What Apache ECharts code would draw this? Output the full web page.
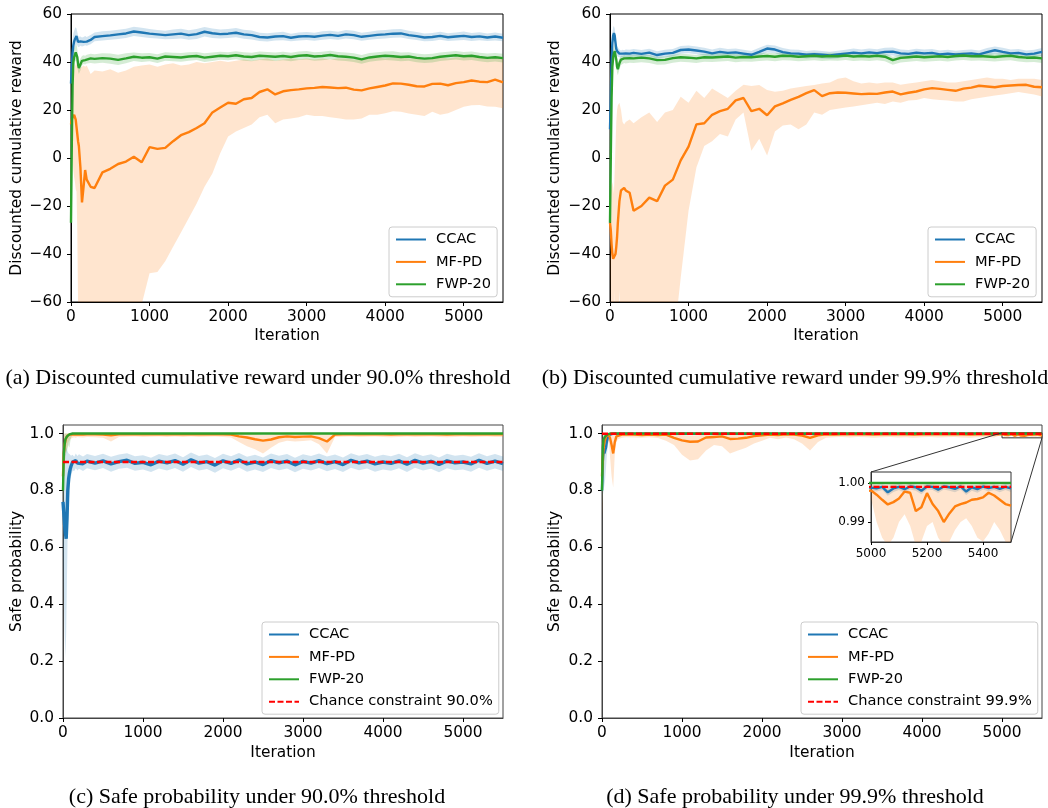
<!DOCTYPE html>
<html>
<head>
<meta charset="utf-8">
<title>CCAC / MF-PD / FWP-20</title>
<script src="https://cdn.jsdelivr.net/npm/echarts@6.0.0/dist/echarts.min.js"></script>
<style>
  html, body { margin: 0; padding: 0; background: #fff; }
  #chart { width: 1048px; height: 808px; }
</style>
</head>
<body>
<div id="chart"></div>
<script>
'use strict';

// iteration grid shared by panels a, b, c
var iters = [
  0, 10, 20, 30, 40, 50, 60, 70, 80, 90, 100, 120, 140, 160, 180, 200, 250, 300,
  400, 500, 600, 700, 800, 900, 1000, 1100, 1200, 1300,
  1400, 1500, 1600, 1700, 1800, 1900, 2000, 2100, 2200, 2300,
  2400, 2500, 2600, 2700, 2800, 2900, 3000, 3100, 3200, 3300,
  3400, 3500, 3600, 3700, 3800, 3900, 4000, 4100, 4200, 4300,
  4400, 4500, 4600, 4700, 4800, 4900, 5000, 5100, 5200, 5300,
  5400, 5500
];

// panel d uses a finer tail (inset 5000-5500)
var itersD = [
  0, 10, 20, 30, 40, 50, 60, 70, 80, 90, 100, 120, 140, 160, 180, 200, 250, 300,
  400, 500, 600, 700, 800, 900, 1000, 1100, 1200, 1300,
  1400, 1500, 1600, 1700, 1800, 1900, 2000, 2100, 2200, 2300,
  2400, 2500, 2600, 2700, 2800, 2900, 3000, 3100, 3200, 3300,
  3400, 3500, 3600, 3700, 3800, 3900, 4000, 4100, 4200, 4300,
  4400, 4500, 4600, 4700, 4800, 4900,
  5000, 5020, 5040, 5060, 5080, 5100, 5120, 5140, 5160, 5180, 5200, 5220, 5240,
  5260, 5280, 5300, 5320, 5340, 5360, 5380, 5400, 5420, 5440, 5460, 5480, 5500
];

var xTicks = [0, 1000, 2000, 3000, 4000, 5000];
var rewardTicks = [-60, -40, -20, 0, 20, 40, 60];
var probTicks = [0, 0.2, 0.4, 0.6, 0.8, 1.0];
var insetXTicks = [5000, 5200, 5400];
var insetYTicks = [0.99, 1.0];
var insetX = [5000, 5500];
var insetY = [0.9849, 1.0028];

// (a) reward, 90.0% threshold
var ccacA = [
  31, 38, 44, 47, 48.5, 49.5, 50.2, 50.8, 49.6, 48.4, 48, 48.6, 48.1, 48.4, 48.9, 48.5, 49.2, 50.4,
  50.8, 51.1, 51.5, 51.9, 52.7, 52.3, 51.8, 51.5, 51.2, 51.5,
  51.8, 51.2, 51.6, 52.6, 52.0, 51.6, 51.8, 52.2, 51.5, 51.2,
  50.4, 50.2, 50.6, 50.8, 50.1, 50.6, 50.8, 50.5, 51.0, 51.3,
  50.9, 51.5, 51.2, 50.5, 50.9, 51.3, 51.5, 51.8, 51.9, 51.2,
  50.8, 50.2, 50.4, 50.9, 50.3, 50.6, 50.9, 50.4, 50.7, 50.2,
  50.6, 50.1
];
var ccacALo = [
  26, 33, 39, 43, 44.5, 46, 47, 47.5, 47, 46.3, 46.2, 46.8, 46.5, 46.7, 47, 46.8, 47.4, 48.6,
  49, 49.3, 49.6, 50, 50.8, 50.4, 50, 49.8, 49.5, 49.6,
  49.8, 49.3, 49.6, 50.6, 50, 49.8, 50, 50.3, 49.7, 49.4,
  48.8, 48.5, 49, 49.1, 48.6, 49, 49.2, 48.9, 49.3, 49.6,
  49.3, 49.8, 49.5, 48.9, 49.3, 49.6, 49.8, 50.1, 50.2, 49.6,
  49.2, 48.6, 48.8, 49.3, 48.7, 49, 49.2, 48.8, 49.1, 48.7,
  49, 48.6
];
var ccacAHi = [
  36, 43, 49, 52, 53, 54, 54.5, 54, 52.5, 51, 50.5, 50.6, 50.2, 50.4, 50.8, 50.4, 51.2, 52.3,
  52.8, 53, 53.4, 53.9, 54.7, 54.3, 53.7, 53.3, 53, 53.5,
  53.9, 53.2, 53.7, 54.6, 54, 53.5, 53.7, 54.2, 53.4, 53.1,
  52.2, 52, 52.3, 52.6, 51.8, 52.3, 52.5, 52.2, 52.8, 53,
  52.6, 53.3, 53, 52.2, 52.6, 53.1, 53.3, 53.6, 53.7, 53,
  52.5, 51.9, 52.1, 52.6, 52, 52.3, 52.7, 52.1, 52.4, 51.9,
  52.3, 51.8
];
var mfpdA = [
  14, 16, 17, 17.5, 18, 17.5, 16, 13, 10, 7, 5, -4, -18.5, -12, -5, -9, -12, -12.5,
  -6, -4.5, -2.5, -1.5, 0.5, -1.8, 4.5, 3.8, 4.2, 7,
  9.5, 10.8, 12.5, 14.5, 19, 21, 23, 22.6, 24.5, 25,
  27.5, 28.6, 26.5, 27.8, 28.3, 28.6, 29, 29.2, 29.6, 29.4,
  29.1, 29.3, 28.5, 28.2, 29, 29.6, 30.2, 31.1, 31, 30.5,
  29.9, 29.8, 30.9, 31, 30.3, 31.2, 31.6, 32.3, 31.8, 31.6,
  32.7, 31.5
];
var mfpdALo = [
  12, 8, 0, -5, -8, -10, -13, -14, -30, -62, -80, -80, -80, -80, -80, -80, -80, -80,
  -80, -80, -80, -80, -80, -61, -48, -47.5, -43, -37,
  -31, -25, -19, -12, -6.5, 2, 9, 11, 12.5, 14,
  17, 18, 14.5, 16, 16.5, 17, 18, 17.5, 17.5, 17,
  16.6, 16, 16, 16.5, 18, 18, 18.6, 19.5, 19.3, 18.5,
  18, 17.5, 19.3, 18, 18.6, 20, 21.4, 22, 22.1, 21.5,
  21.4, 20.7
];
var mfpdAHi = [
  17, 19, 21, 30, 36, 38, 39, 39, 38.5, 38, 38, 37.5, 38, 38.5, 38, 38.5, 35, 36.5,
  36, 37, 35.5, 36.5, 38, 38.5, 39, 38, 39, 39.5,
  38.5, 39, 40, 39.5, 40, 40.5, 40, 40.5, 41, 40.5,
  41, 41.5, 40.5, 41, 41.5, 41, 41.5, 41, 41.5, 41,
  41.5, 41.5, 41, 41, 41.5, 42, 41.5, 42, 42, 41.5,
  41.5, 41, 42, 42, 41.5, 42, 42, 42.5, 42, 42,
  42.5, 42
];
var fwpA = [
  -27, 5, 30, 40, 42, 43, 44, 44.3, 42, 39, 37.5, 39, 40.5, 41, 40.8, 41.2, 41.5, 41.3,
  41.6, 41.4, 40.9, 41.5, 42.2, 41.8, 42, 41.4, 42.3, 42.1,
  41.9, 42.3, 42.5, 41.8, 42.2, 42.6, 42.4, 42.8, 42.3, 42.1,
  42.6, 42.4, 42.2, 42.5, 42.1, 42.6, 42.8, 42.3, 42.5, 42.9,
  42.4, 42.2, 41.8, 41.1, 41.9, 42.3, 42.6, 42.4, 42.1, 42.3,
  41.7, 41.4, 41.6, 42.2, 42.5, 42.8, 42.4, 42.6, 42.1, 41.7,
  42, 41.6
];
var fwpALo = [
  -29, 0, 25, 36, 39, 40, 40.5, 40.5, 38.5, 36, 35, 36.5, 38.5, 39.2, 39, 39.4, 39.6, 39.4,
  39.7, 39.3, 38.8, 39.5, 40.4, 40, 40.3, 39.6, 40.5, 40.3,
  40.1, 40.5, 40.8, 40, 40.4, 40.9, 40.7, 41.1, 40.5, 40.3,
  40.8, 40.6, 40.4, 40.7, 40.3, 40.8, 41, 40.5, 40.7, 41.1,
  40.6, 40.4, 40, 39.3, 40.1, 40.5, 40.8, 40.6, 40.3, 40.5,
  39.9, 39.6, 39.8, 40.4, 40.7, 41, 40.6, 40.8, 40.3, 39.9,
  40.2, 39.8
];
var fwpAHi = [
  -25, 10, 35, 44, 45.5, 46, 47, 47.5, 45.5, 42, 40, 41.5, 42.5, 42.8, 42.6, 43, 43.4, 43.2,
  43.6, 43.5, 43, 43.6, 44, 43.6, 43.7, 43.2, 44.1, 43.9,
  43.7, 44.1, 44.2, 43.6, 44, 44.3, 44.1, 44.5, 44.1, 43.9,
  44.4, 44.2, 44, 44.3, 43.9, 44.4, 44.6, 44.1, 44.3, 44.7,
  44.2, 44, 43.6, 42.9, 43.7, 44.1, 44.4, 44.5, 44, 44.1,
  43.5, 43.2, 43.4, 44, 44.3, 44.6, 44.2, 44.4, 43.9, 43.5,
  43.8, 43.4
];

// (b) reward, 99.9% threshold
var ccacB = [
  12, 25, 40, 48, 51, 52, 51, 48, 45.5, 44.5, 44, 43.5, 43.2, 43.5, 43.3, 43.6, 43.5, 43.8,
  43.4, 43.9, 42.9, 43.5, 43.8, 45, 45.2, 44.8, 44.3, 43.6,
  44.2, 43.8, 44, 43.5, 43, 44.2, 45.6, 45.2, 44.1, 43.6,
  43.5, 43, 43.3, 43, 42.7, 43.1, 43.5, 43.9, 43.6, 44,
  43.7, 44.2, 44.3, 43.6, 43.4, 43.9, 43.6, 43.8, 43.2, 43.5,
  43.1, 43.4, 43.6, 43.2, 44.1, 44.9, 44.2, 43.6, 43.8, 43.2,
  43.5, 44.2
];
var ccacBLo = [
  5, 18, 34, 44, 48, 49, 48.5, 45.5, 43.5, 42.5, 42.2, 42, 41.8, 42, 41.9, 42.1, 42, 42.3,
  41.9, 42.4, 41.4, 42, 42.3, 43.4, 43.6, 43.2, 42.7, 42.1,
  42.6, 42.3, 42.5, 42, 41.5, 42.6, 44, 43.6, 42.5, 42.1,
  42, 41.5, 41.8, 41.5, 41.2, 41.6, 42, 42.3, 42.1, 42.5,
  42.2, 42.6, 42.7, 42.1, 41.9, 42.4, 42.1, 42.3, 41.7, 42,
  41.6, 41.9, 42.1, 41.7, 42.5, 43.3, 42.6, 42.1, 42.3, 41.7,
  42, 42.6
];
var ccacBHi = [
  19, 32, 46, 52, 54.5, 55, 54, 51, 48, 46.5, 46, 45.2, 44.8, 45.1, 44.9, 45.2, 45.1, 45.4,
  45, 45.5, 44.5, 45.1, 45.4, 46.7, 46.9, 46.5, 45.9, 45.2,
  45.9, 45.4, 45.6, 45.1, 44.6, 45.9, 47.2, 46.9, 45.8, 45.2,
  45.1, 44.6, 44.9, 44.6, 44.3, 44.7, 45.1, 45.6, 45.2, 45.6,
  45.3, 45.9, 46, 45.2, 45, 45.5, 45.2, 45.4, 44.8, 45.1,
  44.7, 45, 45.2, 44.8, 45.8, 46.5, 45.9, 45.2, 45.4, 44.8,
  45.1, 45.8
];
var mfpdB = [
  -27, -30, -36, -40, -42, -42, -41.5, -40, -37, -33, -27, -18, -13.5, -13, -12.5, -13.5, -14.5, -22,
  -20, -16.5, -18, -11.5, -9, -1, 4.7, 14, 14.5, 18,
  19.5, 20.5, 24, 25, 19.5, 20.5, 17.8, 21.5, 22.8, 24.2,
  25.5, 27, 28.3, 25.8, 27, 27.3, 27.2, 26.9, 26.6, 26.8,
  26.7, 27.3, 27.7, 26.5, 27.2, 27.7, 28.6, 29.1, 28.8, 28.4,
  28, 28.9, 29.3, 30.1, 29.8, 29.5, 30, 30.2, 30.4, 30.5,
  29.7, 29.5
];
var mfpdBLo = [
  -40, -60, -80, -80, -80, -80, -55, -80, -80, -80, -80, -55, -80, -80, -80, -80, -80, -80,
  -80, -80, -80, -80, -80, -50, -22, -4, 5, 7,
  10, 9, 16, 19, 3, 8, 1, 11, 13.5, 14,
  12, 14, 19, 18, 20, 20.5, 21, 21.5, 22, 22.5,
  23, 22.5, 23.5, 23, 24, 24.2, 25, 24.5, 24.2, 24,
  23.5, 23.5, 24.5, 25, 25.5, 26, 26.5, 27, 27.5, 27,
  26.5, 25.6
];
var mfpdBHi = [
  -15, -14, -12, -10, -12, -15, -5, 5, 15, 20, 22, 23, 20, 15, 14, 15, 16, 14.5,
  17, 19, 15, 19, 20, 25.5, 23, 28, 25, 29,
  27, 25, 28, 30.5, 30, 30.4, 28.3, 27.6, 28, 29,
  29.5, 30, 30.4, 31, 31.5, 33, 33.5, 32, 31, 31.5,
  31, 31.5, 31.5, 30.5, 31, 31.5, 32, 32.5, 32, 31.5,
  31.5, 32, 32.5, 33, 33.5, 33, 33, 32.5, 33, 33,
  33, 32.5
];
var fwpB = [
  -27, 0, 25, 38, 42, 43.5, 44.5, 44, 41, 38, 37, 39.5, 41, 41.2, 41.5, 41.3, 41.6, 41.5,
  41.8, 41.5, 40.8, 40.9, 41.6, 42, 41.8, 41.5, 42, 41.9,
  42.1, 42.3, 41.8, 42.1, 42, 42.3, 42.5, 42.2, 42.6, 42.5,
  42.2, 42.4, 42.6, 42.3, 42.5, 42.4, 42.7, 42.3, 42.5, 42.3,
  42.6, 42.2, 40.8, 41.7, 42, 42.3, 42, 42.2, 42.4, 42.1,
  42.5, 42.7, 42.4, 42.5, 42.3, 42.1, 42.4, 42.6, 42.1, 41.8,
  41.9, 41.5
];
var fwpBLo = [
  -29, -5, 20, 34, 39, 40, 41, 40.5, 38, 35.5, 34.5, 37, 38.8, 39.2, 39.6, 39.4, 39.7, 39.6,
  39.9, 39.6, 38.9, 39, 39.7, 40.1, 39.9, 39.6, 40.1, 40,
  40.2, 40.4, 39.9, 40.2, 40.1, 40.4, 40.6, 40.3, 40.7, 40.6,
  40.3, 40.5, 40.7, 40.4, 40.6, 40.5, 40.8, 40.4, 40.6, 40.4,
  40.7, 40.3, 38.9, 39.8, 40.1, 40.4, 40.1, 40.3, 40.5, 40.2,
  40.6, 40.8, 40.5, 40.6, 40.4, 40.2, 40.5, 40.7, 40.2, 39.9,
  40, 39.6
];
var fwpBHi = [
  -25, 5, 30, 42, 45, 46.5, 47.5, 47, 44, 40.5, 39.5, 41.5, 42.6, 42.6, 42.9, 42.7, 43, 42.9,
  43.2, 42.9, 42.2, 42.3, 43, 43.4, 43.2, 42.9, 43.4, 43.3,
  43.5, 43.7, 43.2, 43.5, 43.4, 43.7, 43.9, 43.6, 44, 43.9,
  43.6, 43.8, 44, 43.7, 43.9, 43.8, 44.1, 43.7, 43.9, 43.7,
  44, 43.6, 42.2, 43.1, 43.4, 43.7, 43.4, 43.6, 43.8, 43.5,
  43.9, 44.1, 43.8, 43.9, 43.7, 43.5, 43.8, 44, 43.5, 43.2,
  43.3, 42.9
];

// (c) safe probability, 90.0% threshold
var ccacC = [
  0.76, 0.72, 0.68, 0.65, 0.63, 0.7, 0.8, 0.84, 0.86, 0.875, 0.885, 0.9, 0.893, 0.905, 0.896, 0.902, 0.894, 0.903,
  0.896, 0.904, 0.893, 0.901, 0.906, 0.895, 0.899, 0.89, 0.903, 0.897,
  0.905, 0.892, 0.908, 0.896, 0.901, 0.889, 0.904, 0.895, 0.907, 0.893,
  0.9, 0.891, 0.905, 0.897, 0.903, 0.89, 0.902, 0.896, 0.905, 0.894,
  0.901, 0.891, 0.906, 0.897, 0.903, 0.893, 0.9, 0.895, 0.904, 0.892,
  0.906, 0.896, 0.902, 0.891, 0.904, 0.897, 0.9, 0.893, 0.906, 0.895,
  0.903, 0.894
];
var ccacCLo = [
  0.6, 0.45, 0.3, 0.21, 0.3, 0.5, 0.68, 0.75, 0.8, 0.83, 0.85, 0.87, 0.868, 0.878, 0.87, 0.876, 0.868, 0.878,
  0.871, 0.879, 0.866, 0.876, 0.88, 0.869, 0.874, 0.865, 0.877, 0.87,
  0.879, 0.866, 0.882, 0.87, 0.875, 0.862, 0.878, 0.869, 0.881, 0.866,
  0.874, 0.865, 0.879, 0.871, 0.877, 0.864, 0.876, 0.87, 0.879, 0.867,
  0.875, 0.865, 0.88, 0.871, 0.877, 0.866, 0.874, 0.869, 0.878, 0.865,
  0.88, 0.87, 0.876, 0.864, 0.878, 0.871, 0.874, 0.866, 0.88, 0.869,
  0.877, 0.868
];
var ccacCHi = [
  0.85, 0.9, 0.93, 0.95, 0.95, 0.945, 0.935, 0.93, 0.928, 0.925, 0.922, 0.925, 0.918, 0.93, 0.921, 0.927, 0.919, 0.928,
  0.921, 0.929, 0.918, 0.926, 0.931, 0.92, 0.924, 0.915, 0.928, 0.922,
  0.93, 0.917, 0.933, 0.921, 0.926, 0.914, 0.929, 0.92, 0.932, 0.918,
  0.925, 0.916, 0.93, 0.922, 0.928, 0.915, 0.927, 0.921, 0.93, 0.919,
  0.926, 0.916, 0.931, 0.922, 0.928, 0.918, 0.925, 0.92, 0.929, 0.917,
  0.931, 0.921, 0.927, 0.916, 0.929, 0.922, 0.925, 0.918, 0.931, 0.92,
  0.928, 0.919
];
var mfpdC = [
  0.85, 0.93, 0.96, 0.975, 0.985, 0.99, 0.993, 0.995, 0.996, 0.997, 0.997, 0.996, 0.997, 0.996, 0.997, 0.997, 0.996, 0.997,
  0.997, 0.996, 0.994, 0.997, 0.997, 0.998, 0.997, 0.997, 0.998, 0.997,
  0.998, 0.997, 0.998, 0.997, 0.997, 0.998, 0.997, 0.996, 0.99, 0.986,
  0.98, 0.975, 0.979, 0.987, 0.99, 0.988, 0.989, 0.99, 0.984, 0.972,
  0.996, 0.997, 0.998, 0.997, 0.997, 0.998, 0.997, 0.996, 0.997, 0.998,
  0.997, 0.997, 0.998, 0.997, 0.996, 0.997, 0.998, 0.997, 0.997, 0.998,
  0.997, 0.997
];
var mfpdCLo = [
  0.7, 0.82, 0.88, 0.92, 0.94, 0.95, 0.96, 0.97, 0.975, 0.98, 0.982, 0.985, 0.987, 0.985, 0.988, 0.987, 0.986, 0.988,
  0.987, 0.985, 0.972, 0.988, 0.989, 0.99, 0.988, 0.989, 0.99, 0.988,
  0.99, 0.988, 0.99, 0.988, 0.989, 0.99, 0.988, 0.986, 0.97, 0.955,
  0.945, 0.93, 0.95, 0.968, 0.975, 0.972, 0.974, 0.976, 0.962, 0.93,
  0.988, 0.989, 0.99, 0.988, 0.989, 0.99, 0.988, 0.987, 0.988, 0.99,
  0.988, 0.989, 0.99, 0.988, 0.987, 0.988, 0.99, 0.988, 0.989, 0.99,
  0.988, 0.988
];
var mfpdCHi = [
  0.95, 0.99, 1, 1, 1, 1, 1, 1, 1, 1, 1, 1, 1, 1, 1, 1, 1, 1,
  1, 1, 1, 1, 1, 1, 1, 1, 1, 1,
  1, 1, 1, 1, 1, 1, 1, 1, 1, 1,
  0.998, 0.995, 0.997, 1, 1, 1, 1, 1, 1, 0.998,
  1, 1, 1, 1, 1, 1, 1, 1, 1, 1,
  1, 1, 1, 1, 1, 1, 1, 1, 1, 1,
  1, 1
];
var fwpC = [
  0.8, 0.93, 0.96, 0.98, 0.985, 0.99, 0.995, 0.995, 0.997, 0.998, 0.999, 1, 1, 1, 1, 1, 1, 1,
  1, 1, 1, 1, 1, 1, 1, 1, 1, 1,
  1, 1, 1, 1, 1, 1, 1, 1, 1, 1,
  1, 1, 1, 1, 1, 1, 1, 1, 1, 1,
  1, 1, 1, 1, 1, 1, 1, 1, 1, 1,
  1, 1, 1, 1, 1, 1, 1, 1, 1, 1,
  1, 1
];
var fwpCLo = [
  0.7, 0.85, 0.9, 0.92, 0.93, 0.94, 0.95, 0.96, 0.95, 0.97, 0.985, 0.995, 0.998, 0.998, 0.998, 0.998, 0.998, 0.998,
  0.998, 0.998, 0.998, 0.998, 0.998, 0.998, 0.998, 0.998, 0.998, 0.998,
  0.998, 0.998, 0.998, 0.998, 0.998, 0.998, 0.998, 0.998, 0.998, 0.998,
  0.998, 0.998, 0.998, 0.998, 0.998, 0.998, 0.998, 0.998, 0.998, 0.998,
  0.998, 0.998, 0.998, 0.998, 0.998, 0.998, 0.998, 0.998, 0.998, 0.998,
  0.998, 0.998, 0.998, 0.998, 0.998, 0.998, 0.998, 0.998, 0.998, 0.998,
  0.998, 0.998
];
var fwpCHi = [
  0.9, 0.98, 1, 1, 1, 1, 1, 1, 1, 1, 1, 1, 1, 1, 1, 1, 1, 1,
  1, 1, 1, 1, 1, 1, 1, 1, 1, 1,
  1, 1, 1, 1, 1, 1, 1, 1, 1, 1,
  1, 1, 1, 1, 1, 1, 1, 1, 1, 1,
  1, 1, 1, 1, 1, 1, 1, 1, 1, 1,
  1, 1, 1, 1, 1, 1, 1, 1, 1, 1,
  1, 1
];

// (d) safe probability, 99.9% threshold (values on itersD)
var ccacD = [
  0.8, 0.9, 0.95, 0.93, 0.925, 0.95, 0.97, 0.985, 0.99, 0.995, 0.997, 0.998, 0.9985, 0.999, 0.9988, 0.999, 0.9989, 0.999,
  0.9989, 0.9991, 0.9987, 0.999, 0.9991, 0.9988, 0.999, 0.9992, 0.9988, 0.999,
  0.9991, 0.9988, 0.999, 0.9989, 0.9991, 0.9987, 0.999, 0.9991, 0.9988, 0.999,
  0.9989, 0.9991, 0.9988, 0.999, 0.9991, 0.9987, 0.999, 0.9989, 0.9991, 0.9988,
  0.999, 0.9989, 0.9991, 0.9987, 0.999, 0.9991, 0.9988, 0.999, 0.9989, 0.9991,
  0.9988, 0.999, 0.9989, 0.9991, 0.9987, 0.999,
  0.9988, 0.9986, 0.999, 0.9976, 0.9986, 0.999, 0.9984, 0.9991, 0.9989, 0.998, 0.9991, 0.999, 0.9983,
  0.9991, 0.9989, 0.9985, 0.9991, 0.9978, 0.9989, 0.9984, 0.9991, 0.9987, 0.999, 0.9985, 0.999, 0.9986
];
var ccacDLo = [
  0.75, 0.78, 0.8, 0.82, 0.84, 0.88, 0.92, 0.95, 0.97, 0.98, 0.99, 0.995, 0.996, 0.997, 0.997, 0.9975, 0.9978, 0.998,
  0.998, 0.9982, 0.9979, 0.9981, 0.9982, 0.9979, 0.9981, 0.9983, 0.9979, 0.9981,
  0.9982, 0.9979, 0.9981, 0.998, 0.9982, 0.9978, 0.9981, 0.9982, 0.9979, 0.9981,
  0.998, 0.9982, 0.9979, 0.9981, 0.9982, 0.9978, 0.9981, 0.998, 0.9982, 0.9979,
  0.9981, 0.998, 0.9982, 0.9978, 0.9981, 0.9982, 0.9979, 0.9981, 0.998, 0.9982,
  0.9979, 0.9981, 0.998, 0.9982, 0.9978, 0.9981,
  0.998, 0.9978, 0.9982, 0.9967, 0.9977, 0.9982, 0.9975, 0.9983, 0.998, 0.9971, 0.9983, 0.9982, 0.9974,
  0.9983, 0.998, 0.9976, 0.9983, 0.9969, 0.998, 0.9975, 0.9983, 0.9978, 0.9982, 0.9976, 0.9982, 0.9977
];
var ccacDHi = [
  0.85, 0.95, 0.99, 0.995, 0.99, 0.995, 0.998, 0.999, 1, 1, 1, 1, 1, 1, 1, 1, 1, 1,
  0.9997, 0.9997, 0.9997, 0.9997, 0.9997, 0.9997, 0.9997, 0.9997, 0.9997, 0.9997,
  0.9997, 0.9997, 0.9997, 0.9997, 0.9997, 0.9997, 0.9997, 0.9997, 0.9997, 0.9997,
  0.9997, 0.9997, 0.9997, 0.9997, 0.9997, 0.9997, 0.9997, 0.9997, 0.9997, 0.9997,
  0.9997, 0.9997, 0.9997, 0.9997, 0.9997, 0.9997, 0.9997, 0.9997, 0.9997, 0.9997,
  0.9997, 0.9997, 0.9997, 0.9997, 0.9997, 0.9997,
  0.9996, 0.9995, 0.9997, 0.9993, 0.9995, 0.9997, 0.9994, 0.9997, 0.9996, 0.9992, 0.9997, 0.9996, 0.9994,
  0.9997, 0.9996, 0.9995, 0.9997, 0.9993, 0.9996, 0.9994, 0.9997, 0.9995, 0.9996, 0.9995, 0.9997, 0.9995
];
var mfpdD = [
  0.85, 0.92, 0.95, 0.97, 0.98, 0.99, 0.993, 0.995, 0.996, 0.994, 0.985, 0.96, 0.93, 0.97, 0.99, 0.995, 0.996, 0.997,
  0.996, 0.995, 0.996, 0.995, 0.996, 0.985, 0.976, 0.971, 0.972, 0.986,
  0.988, 0.99, 0.981, 0.982, 0.985, 0.991, 0.994, 0.996, 0.995, 0.997,
  0.996, 0.993, 0.985, 0.994, 0.997, 0.996, 0.997, 0.997, 0.998, 0.997,
  0.996, 0.997, 0.998, 0.997, 0.997, 0.996, 0.997, 0.998, 0.997, 0.997,
  0.998, 0.997, 0.996, 0.997, 0.998, 0.997,
  0.9981, 0.997, 0.9957, 0.9945, 0.9951, 0.996, 0.9978, 0.9975, 0.9928, 0.9938, 0.9974, 0.9946, 0.9928,
  0.99, 0.9922, 0.994, 0.9946, 0.995, 0.9957, 0.9959, 0.9963, 0.9975, 0.9968, 0.9957, 0.9946, 0.9942
];
var mfpdDLo = [
  0.7, 0.8, 0.85, 0.9, 0.93, 0.95, 0.96, 0.97, 0.975, 0.96, 0.92, 0.85, 0.81, 0.93, 0.97, 0.98, 0.985, 0.987,
  0.986, 0.985, 0.987, 0.984, 0.975, 0.96, 0.925, 0.905, 0.91, 0.94,
  0.96, 0.955, 0.93, 0.94, 0.95, 0.965, 0.975, 0.985, 0.98, 0.986,
  0.98, 0.965, 0.94, 0.97, 0.985, 0.987, 0.988, 0.986, 0.988, 0.987,
  0.985, 0.987, 0.988, 0.986, 0.987, 0.985, 0.987, 0.988, 0.986, 0.987,
  0.988, 0.986, 0.985, 0.987, 0.988, 0.986,
  0.996, 0.99, 0.986, 0.984, 0.986, 0.99, 0.992, 0.989, 0.984, 0.985, 0.989, 0.99, 0.986,
  0.984, 0.985, 0.988, 0.99, 0.991, 0.989, 0.986, 0.985, 0.987, 0.99, 0.988, 0.985, 0.984
];
var mfpdDHi = [
  0.95, 0.98, 0.99, 1, 1, 1, 1, 1, 1, 1, 1, 1, 0.99, 1, 1, 1, 1, 1,
  1, 1, 1, 1, 1, 0.998, 0.995, 0.993, 0.994, 0.998,
  0.999, 1, 0.997, 0.997, 0.998, 1, 1, 1, 1, 1,
  1, 1, 0.998, 1, 1, 1, 1, 1, 1, 1,
  1, 1, 1, 1, 1, 1, 1, 1, 1, 1,
  1, 1, 1, 1, 1, 1,
  0.9996, 0.9996, 0.9995, 0.9996, 0.9997, 0.9996, 0.9996, 0.9997, 0.9995, 0.9996, 0.9996, 0.9997, 0.9996,
  0.9995, 0.9996, 0.9996, 0.9997, 0.9996, 0.9995, 0.9996, 0.9997, 0.9996, 0.9996, 0.9995, 0.9996, 0.9996
];
var fwpD = [
  0.8, 0.95, 0.98, 0.985, 0.99, 0.993, 0.996, 0.997, 0.998, 0.999, 1, 1, 1, 1, 1, 1, 1, 1,
  1, 1, 1, 1, 1, 1, 1, 1, 1, 1,
  1, 1, 1, 1, 1, 1, 1, 1, 1, 1,
  1, 1, 1, 1, 1, 1, 1, 1, 1, 1,
  1, 1, 1, 1, 1, 1, 1, 1, 1, 1,
  1, 1, 1, 1, 1, 1,
  1, 1, 1, 1, 1, 1, 1, 1, 1, 1, 1, 1, 1,
  1, 1, 1, 1, 1, 1, 1, 1, 1, 1, 1, 1, 1
];
var fwpDLo = [
  0.75, 0.85, 0.9, 0.92, 0.93, 0.95, 0.96, 0.97, 0.98, 0.99, 0.995, 0.998, 0.9995, 0.9998, 0.9998, 0.9998, 0.9998, 0.9998,
  0.9998, 0.9998, 0.9998, 0.9998, 0.9998, 0.9998, 0.9998, 0.9998, 0.9998, 0.9998,
  0.9998, 0.9998, 0.9998, 0.9998, 0.9998, 0.9998, 0.9998, 0.9998, 0.9998, 0.9998,
  0.9998, 0.9998, 0.9998, 0.9998, 0.9998, 0.9998, 0.9998, 0.9998, 0.9998, 0.9998,
  0.9998, 0.9998, 0.9998, 0.9998, 0.9998, 0.9998, 0.9998, 0.9998, 0.9998, 0.9998,
  0.9998, 0.9998, 0.9998, 0.9998, 0.9998, 0.9998,
  0.9998, 0.9998, 0.9998, 0.9998, 0.9998, 0.9998, 0.9998, 0.9998, 0.9998, 0.9998, 0.9998, 0.9998, 0.9998,
  0.9998, 0.9998, 0.9998, 0.9998, 0.9998, 0.9998, 0.9998, 0.9998, 0.9998, 0.9998, 0.9998, 0.9998, 0.9998
];
var fwpDHi = [
  0.85, 1, 1, 1, 1, 1, 1, 1, 1, 1, 1, 1, 1, 1, 1, 1, 1, 1,
  1, 1, 1, 1, 1, 1, 1, 1, 1, 1,
  1, 1, 1, 1, 1, 1, 1, 1, 1, 1,
  1, 1, 1, 1, 1, 1, 1, 1, 1, 1,
  1, 1, 1, 1, 1, 1, 1, 1, 1, 1,
  1, 1, 1, 1, 1, 1,
  1, 1, 1, 1, 1, 1, 1, 1, 1, 1, 1, 1, 1,
  1, 1, 1, 1, 1, 1, 1, 1, 1, 1, 1, 1, 1
];

// chance constraint lines
var limitX = [0, 5500];
var limitC = [0.9, 0.9];
var limitD = [0.999, 0.999];

var BLUE = '#1f77b4';
var ORANGE = '#ff7f0e';
var GREEN = '#2ca02c';
var RED = '#ff0000';
var BLUE_BAND = 'rgba(31,119,180,0.2)';
var ORANGE_BAND = 'rgba(255,127,14,0.2)';
var GREEN_BAND = 'rgba(44,160,44,0.2)';
var SANS = "'DejaVu Sans', sans-serif";
var SERIF = "'Liberation Serif', 'Times New Roman', serif";
var FS = 15.4;      // ticks and axis names
var FS_LEG = 14.6;  // legend

function pts(xs, ys) {
  return xs.map(function (x, i) { return [x, ys[i]]; });
}

// shaded band between lo and hi, drawn as one polygon through the axes
function band(g, xs, lo, hi, fill) {
  return {
    type: 'custom', xAxisIndex: g, yAxisIndex: g, silent: true, z: 1, clip: true,
    data: [[xs[0], lo[0]]],
    encode: { x: 0, y: 1 },
    renderItem: function (params, api) {
      var poly = [];
      for (var i = 0; i < xs.length; i++) poly.push(api.coord([xs[i], lo[i]]));
      for (var j = xs.length - 1; j >= 0; j--) poly.push(api.coord([xs[j], hi[j]]));
      var cs = params.coordSys;
      return {
        type: 'polygon',
        shape: { points: poly },
        style: { fill: fill, stroke: null },
        clipPath: { type: 'rect', shape: { x: cs.x, y: cs.y, width: cs.width, height: cs.height } },
      };
    },
  };
}

function line(name, g, xs, ys, color, dashed, width) {
  return {
    name: name, type: 'line', xAxisIndex: g, yAxisIndex: g,
    data: pts(xs, ys), symbol: 'none', silent: true, z: dashed ? 4 : 3,
    itemStyle: { color: color },
    lineStyle: { color: color, width: width || 2.4, type: dashed ? [6, 2.5] : 'solid' },
  };
}

function xAxisOf(g, color) {
  return {
    gridIndex: g, type: 'value', min: 0, max: 5500,
    name: 'Iteration', nameLocation: 'middle', nameGap: g < 2 ? 26 : 27,
    nameTextStyle: { fontSize: FS, color: '#000', fontFamily: SANS },
    axisLine: { onZero: false, lineStyle: { color: color } },
    axisTick: { customValues: xTicks, length: 4, lineStyle: { color: '#000' } },
    axisLabel: {
      customValues: xTicks, margin: 7, fontSize: FS, color: '#000', fontFamily: SANS,
      formatter: function (v) { return String(v); },
    },
    splitLine: { show: false },
  };
}

function yAxisOf(g, name, min, max, ticks, fmt, gap, color) {
  return {
    gridIndex: g, type: 'value', min: min, max: max,
    name: name, nameLocation: 'middle', nameGap: gap,
    nameTextStyle: { fontSize: FS, color: '#000', fontFamily: SANS },
    axisLine: { onZero: false, lineStyle: { color: color } },
    axisTick: { customValues: ticks, length: 4, lineStyle: { color: '#000' } },
    axisLabel: { customValues: ticks, margin: 9, fontSize: FS, color: '#000', fontFamily: SANS, formatter: fmt },
    splitLine: { show: false },
  };
}

function legendAt(left, top, names) {
  return {
    orient: 'vertical', left: left, top: top, data: names,
    itemWidth: 30, itemHeight: 14, itemGap: 7.4, padding: [5, 6, 5, 6],
    backgroundColor: 'rgba(255,255,255,0.8)', borderColor: '#cccccc', borderWidth: 1, borderRadius: 3,
    itemStyle: { opacity: 0 },
    textStyle: { fontSize: FS_LEG, color: '#000', fontFamily: SANS, padding: [0, 0, 0, 5] },
    selectedMode: false,
  };
}

var rewardFmt = function (v) { return String(v).replace('-', '\u2212'); };
var probFmt = function (v) { return v.toFixed(1); };

var series = [];
function add(list) { series = series.concat(list); }

// (a)
add([band(0, iters, ccacALo, ccacAHi, BLUE_BAND), band(0, iters, mfpdALo, mfpdAHi, ORANGE_BAND), band(0, iters, fwpALo, fwpAHi, GREEN_BAND)]);
add([line('CCAC', 0, iters, ccacA, BLUE), line('MF-PD', 0, iters, mfpdA, ORANGE), line('FWP-20', 0, iters, fwpA, GREEN)]);

// (b)
add([band(1, iters, ccacBLo, ccacBHi, BLUE_BAND), band(1, iters, mfpdBLo, mfpdBHi, ORANGE_BAND), band(1, iters, fwpBLo, fwpBHi, GREEN_BAND)]);
add([line('CCAC', 1, iters, ccacB, BLUE), line('MF-PD', 1, iters, mfpdB, ORANGE), line('FWP-20', 1, iters, fwpB, GREEN)]);

// (c) - the CCAC trace is very noisy there, so it is drawn a little heavier
add([band(2, iters, ccacCLo, ccacCHi, BLUE_BAND), band(2, iters, mfpdCLo, mfpdCHi, ORANGE_BAND), band(2, iters, fwpCLo, fwpCHi, GREEN_BAND)]);
add([line('CCAC', 2, iters, ccacC, BLUE, false, 3.4), line('MF-PD', 2, iters, mfpdC, ORANGE), line('FWP-20', 2, iters, fwpC, GREEN)]);
add([line('Chance constraint 90.0%', 2, limitX, limitC, RED, true)]);

// (d) and its inset share the same data
[3, 4].forEach(function (g) {
  add([band(g, itersD, ccacDLo, ccacDHi, BLUE_BAND), band(g, itersD, mfpdDLo, mfpdDHi, ORANGE_BAND), band(g, itersD, fwpDLo, fwpDHi, GREEN_BAND)]);
  add([line('CCAC', g, itersD, ccacD, BLUE), line('MF-PD', g, itersD, mfpdD, ORANGE), line('FWP-20', g, itersD, fwpD, GREEN)]);
  var limit = line('Chance constraint 99.9%', g, limitX, limitD, RED, true);
  if (g === 3) {
    limit.markArea = {
      silent: true, label: { show: false },
      itemStyle: { color: 'rgba(0,0,0,0)', borderColor: '#333', borderWidth: 1 },
      data: [[{ coord: [insetX[0], insetY[1]] }, { coord: [insetX[1], insetY[0]] }]],
    };
  }
  add([limit]);
});

var methods = ['CCAC', 'MF-PD', 'FWP-20'];

var option = {
  animation: false,
  backgroundColor: '#fff',
  grid: [
    { left: 71, top: 14, width: 432, height: 288, show: true, borderColor: '#000', borderWidth: 1 },
    { left: 610, top: 14, width: 432, height: 288, show: true, borderColor: '#000', borderWidth: 1 },
    { left: 63, top: 425, width: 440, height: 293, show: true, borderColor: '#444', borderWidth: 1 },
    { left: 602, top: 425, width: 440, height: 293, show: true, borderColor: '#444', borderWidth: 1 },
    { left: 871, top: 472, width: 140, height: 70, show: true, borderColor: '#333', borderWidth: 1, backgroundColor: '#fff' },
  ],
  xAxis: [
    xAxisOf(0, '#000'), xAxisOf(1, '#000'), xAxisOf(2, '#444'), xAxisOf(3, '#444'),
    {
      gridIndex: 4, type: 'value', min: insetX[0], max: insetX[1],
      axisLine: { onZero: false, lineStyle: { color: '#333' } },
      axisTick: { customValues: insetXTicks, length: 3, lineStyle: { color: '#000' } },
      axisLabel: {
        customValues: insetXTicks, margin: 6, fontSize: 12, color: '#000', fontFamily: SANS,
        formatter: function (v) { return String(v); },
      },
      splitLine: { show: false },
    },
  ],
  yAxis: [
    yAxisOf(0, 'Discounted cumulative reward', -60, 60, rewardTicks, rewardFmt, 47, '#000'),
    yAxisOf(1, 'Discounted cumulative reward', -60, 60, rewardTicks, rewardFmt, 48, '#000'),
    yAxisOf(2, 'Safe probability', 0, 1.03, probTicks, probFmt, 39, '#444'),
    yAxisOf(3, 'Safe probability', 0, 1.03, probTicks, probFmt, 40, '#444'),
    {
      gridIndex: 4, type: 'value', min: insetY[0], max: insetY[1],
      axisLine: { onZero: false, lineStyle: { color: '#333' } },
      axisTick: { customValues: insetYTicks, length: 3, lineStyle: { color: '#000' } },
      axisLabel: {
        customValues: insetYTicks, margin: 6, fontSize: 12, color: '#000', fontFamily: SANS,
        formatter: function (v) { return v.toFixed(2); },
      },
      splitLine: { show: false },
    },
  ],
  legend: [
    legendAt(389, 227, methods),
    legendAt(928, 227, methods),
    legendAt(262, 622, methods.concat(['Chance constraint 90.0%'])),
    legendAt(801, 622, methods.concat(['Chance constraint 99.9%'])),
  ],
  series: series,
};

var chart = echarts.init(document.getElementById('chart'), null, { renderer: 'canvas' });
chart.setOption(option);

// captions and inset connectors
var mainTL = chart.convertToPixel({ gridIndex: 3 }, [insetX[0], insetY[1]]);
var mainBR = chart.convertToPixel({ gridIndex: 3 }, [insetX[1], insetY[0]]);
var insTL = chart.convertToPixel({ gridIndex: 4 }, [insetX[0], insetY[1]]);
var insBR = chart.convertToPixel({ gridIndex: 4 }, [insetX[1], insetY[0]]);

function caption(x, y, text) {
  return {
    type: 'text', x: x, y: y, silent: true,
    style: { text: text, textAlign: 'center', textVerticalAlign: 'middle', fontSize: 22, fontFamily: SERIF, fill: '#000' },
  };
}

function connector(a, b) {
  return {
    type: 'line', silent: true, z: 10,
    shape: { x1: a[0], y1: a[1], x2: b[0], y2: b[1] },
    style: { stroke: '#333', lineWidth: 1 },
  };
}

chart.setOption({
  graphic: [
    caption(258, 378, '(a) Discounted cumulative reward under 90.0% threshold'),
    caption(795, 378, '(b) Discounted cumulative reward under 99.9% threshold'),
    caption(257, 797, '(c) Safe probability under 90.0% threshold'),
    caption(795, 797, '(d) Safe probability under 99.9% threshold'),
    connector(mainTL, insTL),
    connector(mainBR, insBR),
  ],
});
</script>
</body>
</html>
